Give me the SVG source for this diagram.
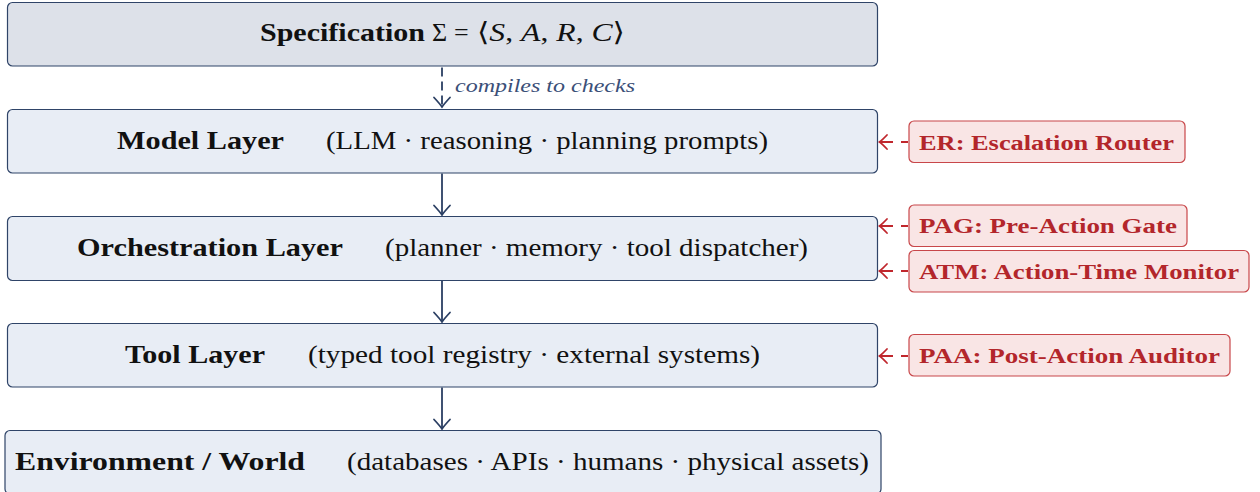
<svg xmlns="http://www.w3.org/2000/svg" width="1260" height="492" viewBox="0 0 1260 492">
<style>
.layer{fill:#e8edf5;stroke:#2f4468;stroke-width:1.2}
.spec{fill:#dde1e9;stroke:#2f4468;stroke-width:1.2}
.guard{fill:#f9e5e5;stroke:#c8474a;stroke-width:1.2}
.b{font-family:"Liberation Serif","DejaVu Serif",serif;font-weight:bold;font-size:26px;fill:#111}
.r{font-family:"Liberation Serif","DejaVu Serif",serif;font-size:26px;fill:#111}
.gt{font-family:"Liberation Serif","DejaVu Serif",serif;font-weight:bold;font-size:20px;fill:#b3262b}
.lbl{font-family:"Liberation Serif","DejaVu Serif",serif;font-style:italic;font-size:19px;fill:#3b4f78}
.flow{stroke:#2b3f63;stroke-width:1.8;fill:none}
.dash{stroke-dasharray:9 5}
.gl{stroke:#c0272d;stroke-width:1.8;fill:none;stroke-dasharray:7 8 14}
</style>
<defs>
<marker id="ab" viewBox="-12 -10 14 20" markerWidth="14" markerHeight="20" refX="0" refY="0" markerUnits="userSpaceOnUse" orient="auto" overflow="visible">
<path d="M -9.5 -8 Q -3 -2 0 0 Q -3 2 -9.5 8" fill="none" stroke="#2b3f63" stroke-width="1.8" stroke-linecap="round"/>
</marker>
<marker id="ar" viewBox="-10 -8 12 16" markerWidth="12" markerHeight="16" refX="0" refY="0" markerUnits="userSpaceOnUse" orient="auto" overflow="visible">
<path d="M -7.5 -7 Q -2.5 -1.8 0 0 Q -2.5 1.8 -7.5 7" fill="none" stroke="#c0272d" stroke-width="1.8" stroke-linecap="round"/>
</marker>
</defs>

<g id="connectors">
<path class="flow dash" d="M 442 67.5 L 442 107" marker-end="url(#ab)"/>
<text class="lbl" x="455" y="92" textLength="180" lengthAdjust="spacingAndGlyphs">compiles to checks</text>
<path class="flow" d="M 442 173.5 L 442 215" marker-end="url(#ab)"/>
<path class="flow" d="M 442 280.5 L 442 322" marker-end="url(#ab)"/>
<path class="flow" d="M 442 387.5 L 442 429" marker-end="url(#ab)"/>
<path class="gl" d="M 908 142 L 879.5 142" marker-end="url(#ar)"/>
<path class="gl" d="M 908 226 L 879.5 226" marker-end="url(#ar)"/>
<path class="gl" d="M 908 271 L 879.5 271" marker-end="url(#ar)"/>
<path class="gl" d="M 908 356 L 879.5 356" marker-end="url(#ar)"/>
</g>

<g id="spec">
<rect class="spec" x="7.5" y="2.5" width="870" height="63.5" rx="5"/>
<text class="b" x="260" y="41" textLength="165" lengthAdjust="spacingAndGlyphs">Specification</text>
<text class="r" x="432" y="41">Σ</text>
<text class="r" x="454" y="41">=</text>
<text class="r" x="477" y="41" textLength="148" lengthAdjust="spacingAndGlyphs">⟨<tspan font-style="italic">S</tspan>, <tspan font-style="italic">A</tspan>, <tspan font-style="italic">R</tspan>, <tspan font-style="italic">C</tspan>⟩</text>
</g>

<g id="model">
<rect class="layer" x="7.5" y="109.5" width="870" height="63.5" rx="5"/>
<text class="b" x="117" y="149" textLength="167" lengthAdjust="spacingAndGlyphs">Model Layer</text>
<text class="r" x="326" y="149" textLength="442" lengthAdjust="spacingAndGlyphs">(LLM · reasoning · planning prompts)</text>
</g>

<g id="orchestration">
<rect class="layer" x="7.5" y="216.5" width="870" height="64" rx="5"/>
<text class="b" x="77" y="256" textLength="266" lengthAdjust="spacingAndGlyphs">Orchestration Layer</text>
<text class="r" x="385" y="256" textLength="423" lengthAdjust="spacingAndGlyphs">(planner · memory · tool dispatcher)</text>
</g>

<g id="tool">
<rect class="layer" x="7.5" y="323.5" width="870" height="63.5" rx="5"/>
<text class="b" x="125" y="363" textLength="140" lengthAdjust="spacingAndGlyphs">Tool Layer</text>
<text class="r" x="308" y="363" textLength="452" lengthAdjust="spacingAndGlyphs">(typed tool registry · external systems)</text>
</g>

<g id="environment">
<rect class="layer" x="5" y="430.5" width="876" height="63.5" rx="5"/>
<text class="b" x="15" y="470" textLength="290" lengthAdjust="spacingAndGlyphs">Environment / World</text>
<text class="r" x="347" y="470" textLength="522" lengthAdjust="spacingAndGlyphs">(databases · APIs · humans · physical assets)</text>
</g>

<g id="er">
<rect class="guard" x="909" y="121" width="276" height="41.5" rx="5"/>
<text class="gt" x="919" y="150" textLength="255" lengthAdjust="spacingAndGlyphs">ER: Escalation Router</text>
</g>
<g id="pag">
<rect class="guard" x="909" y="205" width="278" height="41.5" rx="5"/>
<text class="gt" x="919" y="233" textLength="258" lengthAdjust="spacingAndGlyphs">PAG: Pre-Action Gate</text>
</g>
<g id="atm">
<rect class="guard" x="909" y="250.5" width="340" height="41.5" rx="5"/>
<text class="gt" x="919" y="278.5" textLength="320" lengthAdjust="spacingAndGlyphs">ATM: Action-Time Monitor</text>
</g>
<g id="paa">
<rect class="guard" x="909" y="334.5" width="321" height="41.5" rx="5"/>
<text class="gt" x="919" y="362.5" textLength="301" lengthAdjust="spacingAndGlyphs">PAA: Post-Action Auditor</text>
</g>
</svg>
